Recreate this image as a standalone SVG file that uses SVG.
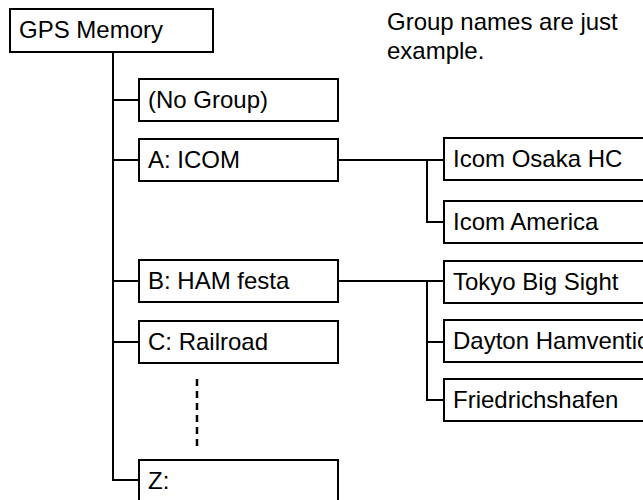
<svg xmlns="http://www.w3.org/2000/svg" width="643" height="500" viewBox="0 0 643 500">
<style>
.box{fill:#fff;stroke:#000;stroke-width:2}
.t{font-family:"Liberation Sans",Arial,sans-serif;font-size:24px;fill:#000}
.ln{fill:none;stroke:#000;stroke-width:2}
.dash{fill:none;stroke:#000;stroke-width:2.5;stroke-dasharray:7,5}
</style>
<rect width="643" height="500" fill="#fff"/>
<g id="connectors">
<path class="ln" d="M113,52 V480 H139 M113,100 H139 M113,160 H139 M113,281 H139 M113,342 H139"/>
<path class="ln" d="M338,160 H444 M427,160 V222 H444"/>
<path class="ln" d="M338,281 H444 M427,281 V400 H444 M427,342 H444"/>
<path class="dash" d="M197,379 V451"/>
</g>
<g id="gps-memory"><rect class="box" x="10" y="9" width="203" height="43"/><text class="t" x="19" y="38">GPS Memory</text></g>
<g id="note"><text class="t" x="387" y="30">Group names are just</text><text class="t" x="387" y="59">example.</text></g>
<g id="no-group"><rect class="box" x="139" y="79" width="199" height="42"/><text class="t" x="148" y="108">(No Group)</text></g>
<g id="a-icom"><rect class="box" x="139" y="139" width="199" height="42"/><text class="t" x="148" y="168">A: ICOM</text></g>
<g id="b-ham"><rect class="box" x="139" y="260" width="199" height="42"/><text class="t" x="148" y="289">B: HAM festa</text></g>
<g id="c-railroad"><rect class="box" x="139" y="321" width="199" height="42"/><text class="t" x="148" y="350">C: Railroad</text></g>
<g id="z"><rect class="box" x="139" y="460" width="199" height="42"/><text class="t" x="148" y="489">Z:</text></g>
<g id="icom-osaka"><rect class="box" x="444" y="138" width="230" height="42"/><text class="t" x="453" y="167">Icom Osaka HC</text></g>
<g id="icom-america"><rect class="box" x="444" y="201" width="230" height="42"/><text class="t" x="453" y="230">Icom America</text></g>
<g id="tokyo"><rect class="box" x="444" y="261" width="230" height="42"/><text class="t" x="453" y="290">Tokyo Big Sight</text></g>
<g id="dayton"><rect class="box" x="444" y="320" width="230" height="42"/><text class="t" x="453" y="349">Dayton Hamvention</text></g>
<g id="friedrichshafen"><rect class="box" x="444" y="379" width="230" height="42"/><text class="t" x="453" y="408">Friedrichshafen</text></g>
</svg>
